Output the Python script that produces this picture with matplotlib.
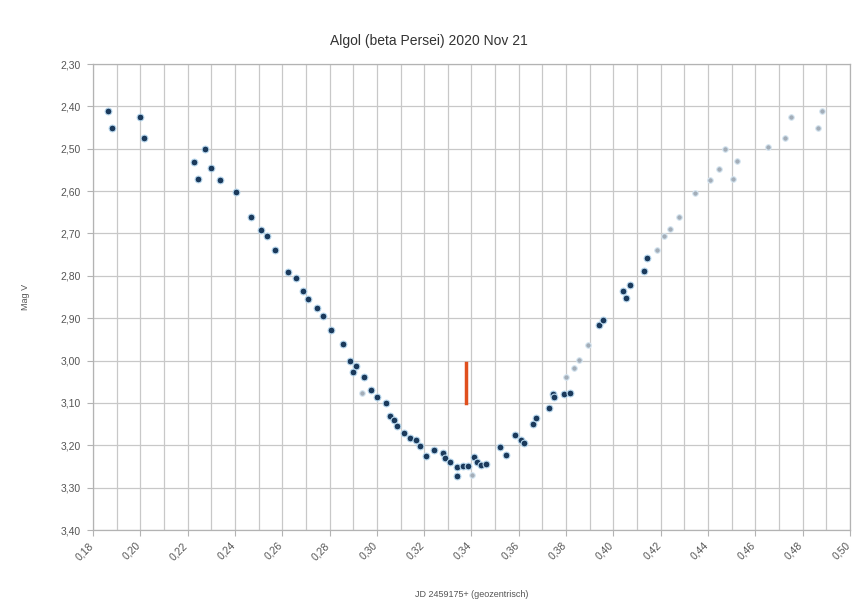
import matplotlib
matplotlib.use("Agg")
import matplotlib.pyplot as plt
from matplotlib.ticker import MultipleLocator, FuncFormatter
from matplotlib.transforms import ScaledTranslation

plt.rcParams['font.family'] = ['Liberation Sans', 'DejaVu Sans']

title = "Algol (beta Persei) 2020 Nov 21"
xlabel = "JD 2459175+ (geozentrisch)"
ylabel = "Mag V"

# dark (measured) points
jd_dark = [0.1864, 0.1881, 0.1997, 0.2017, 0.2274, 0.2226, 0.2300, 0.2242, 0.2338,
           0.2404, 0.2468, 0.2509, 0.2537, 0.2569, 0.2626, 0.2658, 0.2687, 0.2708,
           0.2747, 0.2771, 0.2808, 0.2855, 0.2887, 0.2911, 0.2901, 0.2947, 0.2974,
           0.3002, 0.3037, 0.3055, 0.3072, 0.3086, 0.3114, 0.3139, 0.3167, 0.3184,
           0.3209, 0.3240, 0.3279, 0.3289, 0.3310, 0.3338, 0.3338, 0.3363, 0.3387,
           0.3411, 0.3422, 0.3439, 0.3461, 0.3520, 0.3545, 0.3583, 0.3611, 0.3621,
           0.3660, 0.3674, 0.3727, 0.3744, 0.3747, 0.3793, 0.3817, 0.3940, 0.3957,
           0.4041, 0.4051, 0.4072, 0.4129, 0.4140]
mag_dark = [2.412, 2.452, 2.426, 2.475, 2.500, 2.532, 2.546, 2.571, 2.573,
            2.603, 2.661, 2.691, 2.705, 2.740, 2.790, 2.805, 2.835, 2.855,
            2.876, 2.896, 2.928, 2.961, 3.000, 3.014, 3.026, 3.040, 3.070,
            3.087, 3.100, 3.131, 3.140, 3.155, 3.170, 3.184, 3.188, 3.202,
            3.226, 3.210, 3.219, 3.231, 3.239, 3.273, 3.252, 3.249, 3.249,
            3.227, 3.239, 3.247, 3.244, 3.204, 3.224, 3.175, 3.188, 3.194,
            3.150, 3.136, 3.113, 3.079, 3.085, 3.079, 3.076, 2.916, 2.904,
            2.836, 2.852, 2.822, 2.789, 2.759]

# light (uncertain) points
jd_light = [0.2936, 0.3400, 0.3800, 0.3835, 0.3856, 0.3891, 0.4185, 0.4213, 0.4237,
            0.4279, 0.4343, 0.4409, 0.4448, 0.4507, 0.4524, 0.4472, 0.4653,
            0.4727, 0.4750, 0.4865, 0.4882]
mag_light = [3.077, 3.270, 3.038, 3.018, 2.999, 2.963, 2.739, 2.705, 2.690,
             2.660, 2.605, 2.573, 2.547, 2.571, 2.530, 2.501, 2.497,
             2.475, 2.425, 2.452, 2.412]

# mid-eclipse marker
jd_min = [0.3375, 0.3375]
mag_min = [3.005, 3.100]

fig = plt.figure(figsize=(8.57, 6.04), dpi=100)
ax = fig.add_axes([93 / 857, 1 - 530 / 604, 757 / 857, (530 - 64) / 604])

ax.set_xlim(0.18, 0.50)
ax.set_ylim(3.40, 2.30)

ax.xaxis.set_major_locator(MultipleLocator(0.02))
ax.xaxis.set_minor_locator(MultipleLocator(0.01))
ax.yaxis.set_major_locator(MultipleLocator(0.10))

ax.xaxis.set_major_formatter(FuncFormatter(lambda v, p: f"{v:.2f}".replace('.', ',')))
ax.yaxis.set_major_formatter(FuncFormatter(lambda v, p: f"{v:.2f}".replace('.', ',')))

ax.grid(True, which='both', axis='x', color='#c8c8c8', linewidth=0.9)
ax.grid(True, which='major', axis='y', color='#c8c8c8', linewidth=0.9)
ax.set_axisbelow(True)

for s in ax.spines.values():
    s.set_color('#b3b3b3')
    s.set_linewidth(0.9)

ax.tick_params(axis='both', which='major', labelsize=7.5, colors='#b3b3b3',
               labelcolor='#555555', length=4, width=0.8)
ax.tick_params(axis='y', which='major', pad=5)
ax.tick_params(axis='x', which='minor', length=0)
offset = ScaledTranslation(-5 / 100, 0, fig.dpi_scale_trans)
for lbl in ax.get_xticklabels():
    lbl.set_rotation(45)
    lbl.set_ha('right')
    lbl.set_rotation_mode('anchor')
    lbl.set_transform(lbl.get_transform() + offset)

ax.scatter(jd_light, mag_light, s=16, color='#a3adb8', edgecolors='#d6e6f2',
           linewidths=0.8, zorder=3)
ax.scatter(jd_dark, mag_dark, s=24, color='#1b3a5c', edgecolors='#b9d8ee',
           linewidths=0.8, zorder=4)
ax.plot(jd_min, mag_min, color='#e0501e', linewidth=2.5, zorder=5)

fig.text(0.5, 0.932, title, ha='center', va='center', fontsize=10, color='#333333')
ax.set_xlabel(xlabel, fontsize=6.5, color='#555555', labelpad=20)
ax.set_ylabel(ylabel, fontsize=6.5, color='#555555', labelpad=22)

fig.savefig("out.png", dpi=100, facecolor='white')
